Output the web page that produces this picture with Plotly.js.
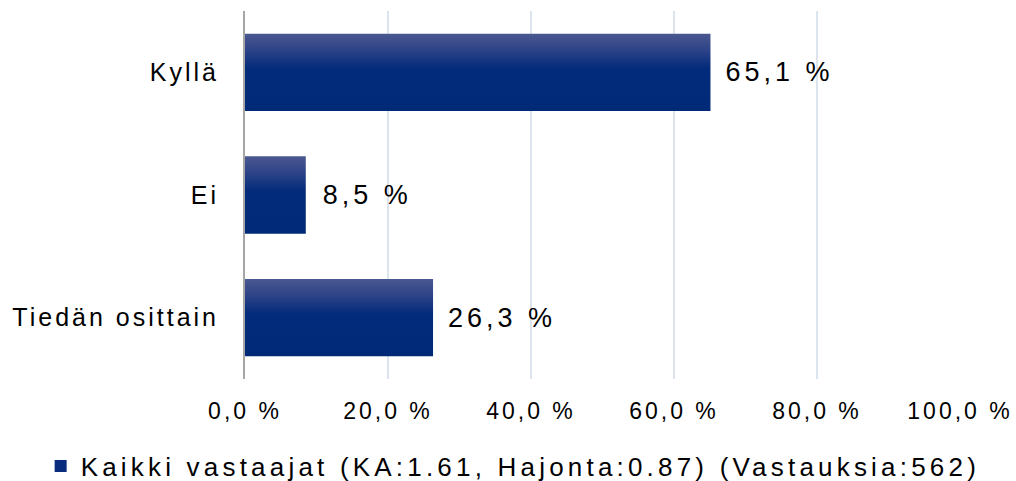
<!DOCTYPE html>
<html>
<head>
<meta charset="utf-8">
<script src="https://cdn.plot.ly/plotly-3.0.1.min.js"></script>
<style>
html,body{margin:0;padding:0;background:#fff;}
#chart .ytick text{letter-spacing:3px;}
#chart .xtick text{letter-spacing:3px;}
#chart text.bartext{letter-spacing:4px;}
#chart text.legendtext{letter-spacing:4.2px;}
</style>
</head>
<body>
<div id="chart" style="width:1016px;height:481px;"></div>
<script>
const categories = ["Kyllä", "Ei", "Tiedän osittain"];
const values = [65.1, 8.5, 26.3];
const seriesName = "Kaikki vastaajat (KA:1.61, Hajonta:0.87) (Vastauksia:562)";
const tickValues = [0, 20, 40, 60, 80, 100];
const tickLabels = ["0,0 %", "20,0 %", "40,0 %", "60,0 %", "80,0 %", "100,0 %"];

const trace = {
  type: "bar",
  orientation: "h",
  y: categories,
  x: values,
  name: seriesName,
  width: 0.63,
  marker: {color: "#0a2c7c", line: {width: 0}},
  texttemplate: "%{x:.1f} %",
  textposition: "outside",
  cliponaxis: false,
  textfont: {family: "Liberation Sans, Arial, sans-serif", size: 27, color: "#000"},
  hoverinfo: "none"
};

const layout = {
  width: 1016, height: 481,
  margin: {l: 245, r: 56, t: 11, b: 102, autoexpand: false},
  separators: ",.",
  paper_bgcolor: "#fff", plot_bgcolor: "#fff",
  font: {family: "Liberation Sans, Arial, sans-serif", size: 22, color: "#000"},
  showlegend: true,
  legend: {
    orientation: "h", xref: "container", yref: "container",
    x: 0.04, xanchor: "left", y: 0.031, yanchor: "middle",
    font: {size: 26, color: "#000"}, itemwidth: 30, tracegroupgap: 0
  },
  xaxis: {
    range: [0, 100], tickvals: tickValues, ticktext: tickLabels,
    showgrid: true, gridcolor: "#dce4ee", gridwidth: 1.5,
    zeroline: false, showline: false, ticks: "", ticklabelstandoff: 16,
    tickfont: {size: 23}, fixedrange: true
  },
  yaxis: {
    autorange: "reversed", showline: true, linecolor: "#a6a6a6", linewidth: 2,
    ticks: "", ticklabelstandoff: 19, showgrid: false, zeroline: false,
    tickfont: {size: 25}, fixedrange: true
  },
  bargap: 0.37
};

Plotly.newPlot("chart", [trace], layout, {staticPlot: true, displayModeBar: false}).then(function(gd){
  const svg = gd.querySelector("svg.main-svg");
  const ns = "http://www.w3.org/2000/svg";
  let defs = svg.querySelector("defs");
  if (!defs) { defs = document.createElementNS(ns, "defs"); svg.insertBefore(defs, svg.firstChild); }
  const grad = document.createElementNS(ns, "linearGradient");
  grad.setAttribute("id", "barGrad");
  grad.setAttribute("x1", "0"); grad.setAttribute("y1", "0");
  grad.setAttribute("x2", "0"); grad.setAttribute("y2", "1");
  [["0", "#4b5890"], ["0.2", "#2f4488"], ["0.45", "#032b7b"], ["1", "#002a78"]].forEach(function(s){
    const st = document.createElementNS(ns, "stop");
    st.setAttribute("offset", s[0]); st.setAttribute("stop-color", s[1]);
    grad.appendChild(st);
  });
  defs.appendChild(grad);
  gd.querySelectorAll(".barlayer .point path").forEach(function(p){ p.style.fill = "url(#barGrad)"; });
  gd.querySelectorAll("text.bartext").forEach(function(t){ t.setAttribute("dx", "24"); });
  gd.querySelectorAll(".legend [clip-path], .legend").forEach(function(el){ el.removeAttribute("clip-path"); });
});
</script>
</body>
</html>
